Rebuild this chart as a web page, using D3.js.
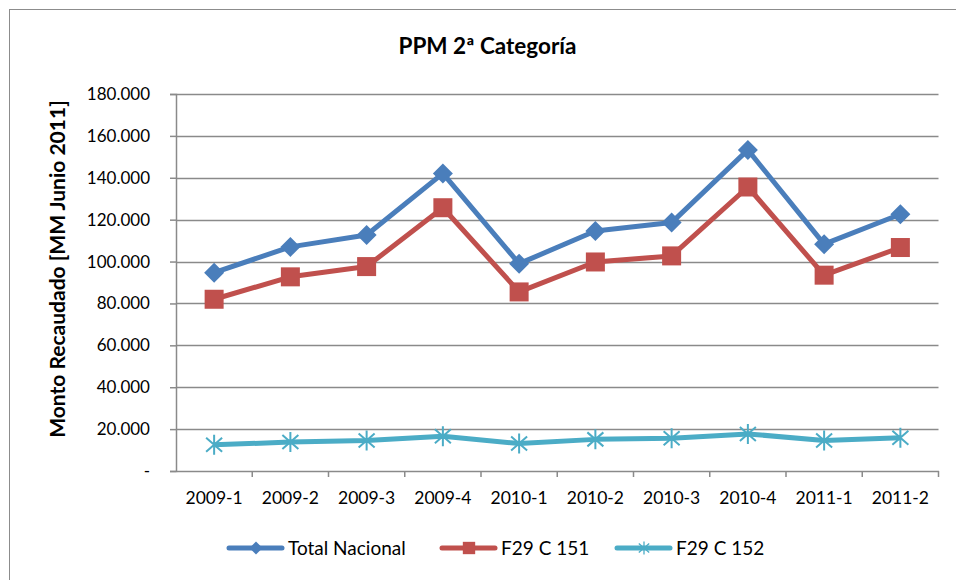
<!DOCTYPE html>
<html>
<head>
<meta charset="utf-8">
<script src="https://cdn.jsdelivr.net/npm/d3@7"></script>
<style>
	body { margin: 0; background: #fff; }
	svg { display: block; font-family: Lato, "Open Sans", sans-serif; }
</style>
</head>
<body>
<div id="chart"></div>
<script>
const categories = ['2009-1', '2009-2', '2009-3', '2009-4', '2010-1', '2010-2', '2010-3', '2010-4', '2011-1', '2011-2']
const totalNacional = [94700, 107000, 112700, 142100, 99000, 114600, 118600, 153300, 108300, 122600]
const f29c151 = [82000, 92700, 97600, 125700, 85500, 99800, 102700, 135600, 93500, 106700]
const f29c152 = [12500, 13800, 14600, 16600, 13100, 15100, 15600, 17700, 14600, 15900]
const yTicks = [0, 20000, 40000, 60000, 80000, 100000, 120000, 140000, 160000, 180000]

const series = [
	{ name: 'Total Nacional', values: totalNacional, color: '#4A7EBB', marker: 'diamond' },
	{ name: 'F29 C 151', values: f29c151, color: '#C0504D', marker: 'square' },
	{ name: 'F29 C 152', values: f29c152, color: '#4BACC6', marker: 'star' }
]

const width = 956, height = 580
const margin = { top: 94, right: 18, bottom: 109, left: 176 }
const innerW = 762.5, innerH = 471 - margin.top

const svg = d3.select('#chart').append('svg')
	.attr('width', width)
	.attr('height', height)

// chart border
svg.append('rect')
	.attr('x', 9.5).attr('y', 9.5)
	.attr('width', 960).attr('height', 600)
	.attr('fill', 'none')
	.attr('stroke', '#8c8c8c')
	.attr('stroke-width', 1)

svg.append('text')
	.attr('x', 487.5).attr('y', 54)
	.attr('text-anchor', 'middle')
	.attr('font-size', '22.5px')
	.attr('font-weight', 'bold')
	.text('PPM 2ª Categoría')

const g = svg.append('g')
	.attr('transform', `translate(${margin.left},${margin.top})`)

const x = d3.scaleBand()
	.domain(categories)
	.range([0, innerW])

const y = d3.scaleLinear()
	.domain([0, 180000])
	.range([innerH, 0])

const fmt = (d) => d === 0 ? '-' : d3.format(',')(d).replace(/,/g, '.')

// gridlines
g.append('g')
	.selectAll('line')
	.data(yTicks.filter((d) => d > 0))
	.enter().append('line')
		.attr('x1', 0).attr('x2', innerW)
		.attr('y1', (d) => Math.round(y(d)) + 0.5)
		.attr('y2', (d) => Math.round(y(d)) + 0.5)
		.attr('stroke', '#8a8a8a')
		.attr('stroke-width', 1.5)

// y axis
const yAxis = g.append('g')
	.call(d3.axisLeft(y).tickValues(yTicks).tickSize(6).tickPadding(20).tickFormat(fmt))
yAxis.select('.domain').attr('stroke', '#8a8a8a').attr('stroke-width', 1.5)
yAxis.selectAll('.tick line').attr('stroke', '#8a8a8a').attr('stroke-width', 1.5)
yAxis.selectAll('text')
	.attr('font-size', '17px')
	.attr('fill', '#000')
	.attr('font-family', 'Lato, sans-serif')

// x axis
const xAxis = g.append('g')
	.attr('transform', `translate(0,${innerH})`)
	.call(d3.axisBottom(x).tickSize(0).tickPadding(21))
xAxis.select('.domain').attr('stroke', '#8a8a8a').attr('stroke-width', 1.5)
xAxis.selectAll('text')
	.attr('font-size', '17.5px')
	.attr('fill', '#000')
	.attr('font-family', 'Lato, sans-serif')

// category separators on the x axis
g.append('g')
	.selectAll('line')
	.data(categories)
	.enter().append('line')
		.attr('x1', (d) => x(d) + x.bandwidth())
		.attr('x2', (d) => x(d) + x.bandwidth())
		.attr('y1', innerH)
		.attr('y2', innerH + 6)
		.attr('stroke', '#8a8a8a')
		.attr('stroke-width', 1.5)

svg.append('text')
	.attr('transform', 'translate(65,269) rotate(-90)')
	.attr('text-anchor', 'middle')
	.attr('font-size', '21px')
	.attr('font-weight', 'bold')
	.text('Monto Recaudado [MM Junio 2011]')

function drawMarker (sel, type, color) {
	if (type === 'diamond') {
		sel.append('path')
			.attr('d', 'M0,-10L10,0L0,10L-10,0Z')
			.attr('fill', color)
	} else if (type === 'square') {
		sel.append('rect')
			.attr('x', -9.5).attr('y', -9.5)
			.attr('width', 19).attr('height', 19)
			.attr('fill', color)
	} else {
		sel.append('path')
			.attr('d', 'M0,-10V10M-8,-7L8,7M-8,7L8,-7')
			.attr('stroke', color)
			.attr('stroke-width', 2)
			.attr('fill', 'none')
	}
}

const line = d3.line()
	.x((d, i) => x(categories[i]) + x.bandwidth() / 2)
	.y((d) => y(d))

series.forEach((s) => {
	g.append('path')
		.datum(s.values)
		.attr('fill', 'none')
		.attr('stroke', s.color)
		.attr('stroke-width', 5)
		.attr('stroke-linejoin', 'round')
		.attr('d', line)

	g.selectAll(null)
		.data(s.values)
		.enter().append('g')
			.attr('transform', (d, i) => `translate(${x(categories[i]) + x.bandwidth() / 2},${y(d)})`)
			.each(function () { drawMarker(d3.select(this), s.marker, s.color) })
})

// Legend
const legendX = [229, 442, 617]
const legend = svg.append('g')
	.selectAll('g')
	.data(series)
	.enter().append('g')
		.attr('transform', (d, i) => `translate(${legendX[i]},548)`)

legend.append('line')
	.attr('x1', 0).attr('x2', 53)
	.attr('stroke', (d) => d.color)
	.attr('stroke-width', 5)
	.attr('stroke-linecap', 'round')

legend.each(function (d) {
	const m = d3.select(this).append('g')
		.attr('transform', 'translate(27,0) scale(0.65)')
	drawMarker(m, d.marker, d.color)
})

legend.append('text')
	.attr('x', 59)
	.attr('y', 6.5)
	.attr('font-size', '19px')
	.text((d) => d.name)
</script>
</body>
</html>
